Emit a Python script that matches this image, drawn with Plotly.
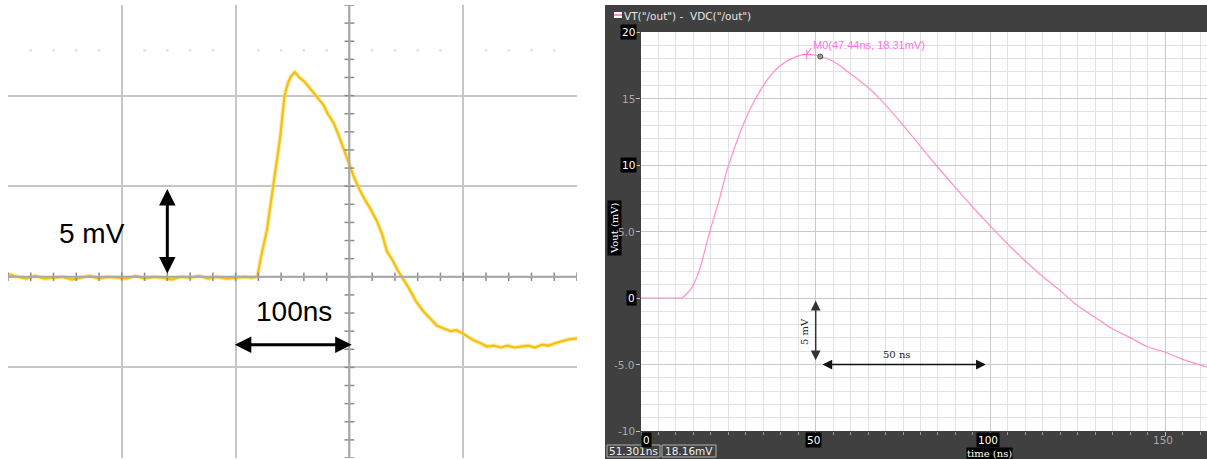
import plotly.graph_objs as go

# ---- datos: osciloscopio (izquierda) ----
t_scope = [0, 8, 16, 24, 32, 40, 48, 56, 64, 72, 80, 88, 96, 104, 112, 120, 128, 136, 144, 152,
           160, 168, 176, 184, 192, 200, 208, 214, 219, 223, 227.6, 233, 239, 243, 246, 249, 252,
           256, 260, 264, 268, 272, 277, 281, 286, 290, 294, 300, 304, 309, 314, 319, 324, 329,
           333, 338, 342, 346, 352, 359, 365, 371, 377, 383, 389, 394, 399, 404, 409, 415, 421,
           427, 433, 439, 445, 451, 457, 463, 469, 475, 481, 487, 493, 500]
v_scope = [0.15, 0.0, -0.1, 0.05, -0.1, -0.05, 0.0, -0.15, -0.05, 0.05, -0.1, 0.0, -0.05, -0.1,
           0.05, -0.1, 0.0, -0.05, -0.15, 0.0, -0.05, 0.05, -0.1, 0.0, -0.1, -0.05, 0.0, -0.05,
           0.0, 1.3, 2.6, 5.0, 7.6, 10.0, 10.7, 11.1, 11.3, 11.0, 10.8, 10.5, 10.2, 9.9, 9.5, 9.0,
           8.5, 7.9, 7.2, 6.1, 5.5, 4.8, 4.2, 3.7, 3.1, 2.3, 1.4, 0.9, 0.4, 0.0, -0.6, -1.4, -1.9,
           -2.3, -2.7, -2.85, -3.0, -2.95, -3.1, -3.3, -3.5, -3.65, -3.85, -3.8, -3.9, -3.8, -3.9,
           -3.85, -3.8, -3.9, -3.75, -3.8, -3.65, -3.55, -3.45, -3.4]

# ---- datos: simulación (derecha) ----
t_sim = [0, 5, 10, 11.7, 13, 14.6, 16.6, 18, 19.7, 22.3, 24.6, 27.2, 29.5, 32, 34.6, 37, 40, 44.4,
         47.44, 51.3, 55, 59.5, 65.3, 68.1, 74.7, 80, 84.4, 90, 94.7, 100, 104.8, 109.9, 114.8,
         120.2, 124.8, 130.2, 134.8, 140.2, 144.8, 150.3, 154.8, 162]
v_sim = [0, 0, 0, 0, 0.3, 0.8, 2.0, 3.3, 5.0, 7.3, 9.6, 11.6, 13.2, 14.6, 15.8, 16.7, 17.5, 18.15,
         18.31, 18.16, 17.8, 16.95, 15.75, 15.05, 13.1, 11.4, 10.0, 8.3, 6.9, 5.4, 4.1, 2.8, 1.65,
         0.5, -0.55, -1.5, -2.3, -3.0, -3.65, -4.1, -4.6, -5.2]

marker_m0 = (47.44, 18.31)
cursor = (51.301, 18.16)

y_ticks_sim = [20, 15, 10, 5, 0, -5, -10]
y_labels_sim = ["20", "15", "10", "5.0", "0", "-5.0", "-10"]
y_hl_sim = [True, False, True, False, True, False, False]
x_ticks_sim = [0, 50, 100, 150]
x_labels_sim = ["0", "50", "100", "150"]
x_hl_sim = [True, True, True, False]

W, H = 1207, 459


def px(x):
    return x / W


def py(y):
    return 1 - y / H


fig = go.Figure()

# Traza del osciloscopio
fig.add_trace(go.Scatter(x=t_scope, y=v_scope, mode='lines', xaxis='x', yaxis='y',
                         line=dict(color='#fbe07a', width=4.5), opacity=0.6, hoverinfo='skip'))
fig.add_trace(go.Scatter(x=t_scope, y=v_scope, mode='lines', xaxis='x', yaxis='y',
                         line=dict(color='#f3c10f', width=2.2)))

# Marcas de las líneas centrales
tick_x = [i * 20 for i in range(26)]
tick_y = [i for i in range(-10, 16)]
fig.add_trace(go.Scatter(x=tick_x, y=[0] * len(tick_x), mode='markers', xaxis='x', yaxis='y',
                         marker=dict(symbol='line-ns', size=6, line=dict(color='#8a8a8a', width=1.5)),
                         hoverinfo='skip'))
fig.add_trace(go.Scatter(x=[300] * len(tick_y), y=tick_y, mode='markers', xaxis='x', yaxis='y',
                         marker=dict(symbol='line-ew', size=7, line=dict(color='#8a8a8a', width=1.5)),
                         hoverinfo='skip'))
dots_x = [t for t in tick_x if t % 100 != 0]
fig.add_trace(go.Scatter(x=dots_x, y=[12.5] * len(dots_x), mode='markers', xaxis='x', yaxis='y',
                         marker=dict(symbol='square', size=2.5, color='#e0e0e0'), hoverinfo='skip'))

# Curva simulada
fig.add_trace(go.Scatter(x=t_sim, y=v_sim, mode='lines', xaxis='x2', yaxis='y2',
                         line=dict(color='#ff8fcf', width=1.2, shape='spline', smoothing=0.8)))
fig.add_trace(go.Scatter(x=[marker_m0[0]], y=[marker_m0[1]], mode='markers', xaxis='x2', yaxis='y2',
                         marker=dict(symbol='cross-thin', size=7, line=dict(color='#ff6fd0', width=1))))
fig.add_trace(go.Scatter(x=[cursor[0]], y=[cursor[1]], mode='markers', xaxis='x2', yaxis='y2',
                         marker=dict(symbol='circle', size=5, color='#9a9a9a', line=dict(color='#555', width=1))))

shapes = [
    # marco oscuro del visor
    dict(type='rect', xref='paper', yref='paper', x0=px(605), x1=1, y0=0, y1=py(5),
         fillcolor='#404040', line=dict(width=0), layer='below'),
    # zona blanca de trazado
    dict(type='rect', xref='paper', yref='paper', x0=px(641), x1=1, y0=28 / H, y1=427 / H,
         fillcolor='white', line=dict(width=0), layer='below'),
    # líneas centrales del osciloscopio
    dict(type='line', xref='x', yref='y', x0=300, x1=300, y0=-10, y1=15,
         line=dict(color='#a8a8a8', width=2)),
    dict(type='line', xref='x', yref='y', x0=0, x1=500, y0=0, y1=0,
         line=dict(color='#a8a8a8', width=2)),
    # muestra de leyenda
    dict(type='rect', xref='paper', yref='paper', x0=px(614), x1=px(622), y0=py(18), y1=py(12),
         fillcolor='white', line=dict(width=0)),
    dict(type='line', xref='paper', yref='paper', x0=px(614), x1=px(622), y0=py(15), y1=py(15),
         line=dict(color='#ff8fcf', width=2)),
    # cajas de estado
    dict(type='rect', xref='paper', yref='paper', x0=px(607), x1=px(660), y0=py(457), y1=py(445),
         line=dict(color='#b0b0b0', width=1)),
    dict(type='rect', xref='paper', yref='paper', x0=px(662), x1=px(716), y0=py(457), y1=py(445),
         line=dict(color='#b0b0b0', width=1)),
    # guía del marcador M0
    dict(type='line', xref='x2', yref='y2', x0=marker_m0[0], y0=marker_m0[1],
         x1=marker_m0[0] + 1.3, y1=marker_m0[1] + 0.5, line=dict(color='#ff6fd0', width=1)),
]

MID = dict(xanchor='center', yanchor='middle')

annotations = [
    # flechas y textos del osciloscopio
    dict(xref='x', yref='y', axref='x', ayref='y', x=140, y=4.85, ax=140, ay=0.1, text='',
         showarrow=True, arrowhead=2, arrowside='end+start', arrowsize=1.1, arrowwidth=3,
         arrowcolor='black'),
    dict(xref='x', yref='y', axref='x', ayref='y', x=302, y=-3.75, ax=198, ay=-3.75, text='',
         showarrow=True, arrowhead=2, arrowside='end+start', arrowsize=1.1, arrowwidth=3,
         arrowcolor='black'),
    dict(xref='x', yref='y', x=74, y=2.37, text='5 mV', showarrow=False, **MID,
         font=dict(family='Liberation Sans', size=28, color='black')),
    dict(xref='x', yref='y', x=251, y=-1.93, text='100ns', showarrow=False, **MID,
         font=dict(family='Liberation Sans', size=28, color='black')),
    # flechas y textos de la simulación
    dict(xref='x2', yref='y2', axref='x2', ayref='y2', x=50, y=-0.2, ax=50, ay=-4.8, text='',
         showarrow=True, arrowhead=2, arrowside='end+start', arrowsize=1.3, arrowwidth=1.5,
         arrowcolor='#333333'),
    dict(xref='x2', yref='y2', axref='x2', ayref='y2', x=98.7, y=-5, ax=51.5, ay=-5, text='',
         showarrow=True, arrowhead=2, arrowside='end+start', arrowsize=1.3, arrowwidth=1.5,
         arrowcolor='#111111'),
    dict(xref='x2', yref='y2', x=47, y=-2.55, text='5 mV', showarrow=False, textangle=-90, **MID,
         font=dict(family='DejaVu Serif', size=10, color='#222')),
    dict(xref='x2', yref='y2', x=73, y=-4.25, text='50 ns', showarrow=False, **MID,
         font=dict(family='DejaVu Serif', size=10, color='#222')),
    dict(xref='x2', yref='y2', x=marker_m0[0] + 1.3, y=marker_m0[1] + 0.7, xanchor='left',
         yanchor='middle', text='M0(47.44ns, 18.31mV)', showarrow=False,
         font=dict(family='Liberation Sans', size=11, color='#ff6fe8')),
    # leyenda
    dict(xref='paper', yref='paper', x=px(622), y=py(16), xanchor='left', yanchor='middle',
         text='VT("/out") -  VDC("/out")', showarrow=False,
         font=dict(family='DejaVu Sans', size=10.5, color='#e6e6e6')),
    # títulos de ejes
    dict(xref='paper', yref='paper', x=px(614), y=py(228), text='Vout (mV)', textangle=-90,
         showarrow=False, bgcolor='black', borderpad=1, **MID,
         font=dict(family='DejaVu Serif', size=10, color='white')),
    dict(xref='paper', yref='paper', x=px(989), y=py(453), text='time (ns)',
         showarrow=False, bgcolor='black', borderpad=0, **MID,
         font=dict(family='DejaVu Serif', size=10, color='white')),
    # estado del cursor
    dict(xref='paper', yref='paper', x=px(633), y=py(451), text='%.3fns' % cursor[0],
         showarrow=False, **MID, font=dict(family='DejaVu Sans', size=10.5, color='#f0f0f0')),
    dict(xref='paper', yref='paper', x=px(689), y=py(451), text='%.2fmV' % cursor[1],
         showarrow=False, **MID, font=dict(family='DejaVu Sans', size=10.5, color='#f0f0f0')),
]

# etiquetas de ejes del visor
for val, lab, hl in zip(y_ticks_sim, y_labels_sim, y_hl_sim):
    annotations.append(dict(
        xref='paper', yref='y2', x=px(637), y=val, xanchor='right', yanchor='middle',
        text=lab, showarrow=False, bgcolor='black' if hl else None, borderpad=1,
        font=dict(family='DejaVu Sans', size=10.5, color='white' if hl else '#a8a8a8')))
for val, lab, hl in zip(x_ticks_sim, x_labels_sim, x_hl_sim):
    annotations.append(dict(
        xref='x2', yref='paper', x=val, y=py(440), xanchor='left' if val == 0 else 'center',
        yanchor='middle', xshift=0 if val == 0 else -2, text=lab, showarrow=False,
        bgcolor='black' if hl else None, borderpad=1,
        font=dict(family='DejaVu Sans', size=10.5, color='white' if hl else '#a8a8a8')))

fig.update_layout(
    width=W, height=H,
    margin=dict(l=0, r=0, t=0, b=0),
    paper_bgcolor='white', plot_bgcolor='white',
    showlegend=False,
    shapes=shapes, annotations=annotations,
    xaxis=dict(domain=[px(8), px(577)], range=[0, 500], dtick=100, tick0=0, anchor='y',
               showgrid=True, gridcolor='#c6c6c6', gridwidth=1.5, zeroline=False,
               showticklabels=False, ticks=''),
    yaxis=dict(domain=[1 / H, 454 / H], range=[-10, 15], dtick=5, tick0=0, anchor='x',
               showgrid=True, gridcolor='#c6c6c6', gridwidth=1.5, zeroline=False,
               showticklabels=False, ticks=''),
    xaxis2=dict(domain=[px(641), 1], range=[0, 162], dtick=50, tick0=0, anchor='y2',
                showgrid=True, gridcolor='#c8c8c8', gridwidth=1, zeroline=False,
                showticklabels=False, ticks='outside', ticklen=4, tickcolor='#c0c0c0',
                minor=dict(dtick=5, showgrid=True, gridcolor='#e2e2e2', ticks='outside',
                           ticklen=3, tickcolor='#9a9a9a')),
    yaxis2=dict(domain=[28 / H, 427 / H], range=[-10, 20], dtick=5, tick0=0, anchor='x2',
                showgrid=True, gridcolor='#c8c8c8', gridwidth=1, zeroline=False,
                showticklabels=False, ticks='outside', ticklen=4, tickcolor='#c0c0c0',
                minor=dict(dtick=1, showgrid=True, gridcolor='#e2e2e2', ticks='')),
)

# quitar el margen del body para que la figura ocupe la ventana
fig.write_html("out.html", config={'displayModeBar': False},
               post_script="document.body.style.margin='0';")
